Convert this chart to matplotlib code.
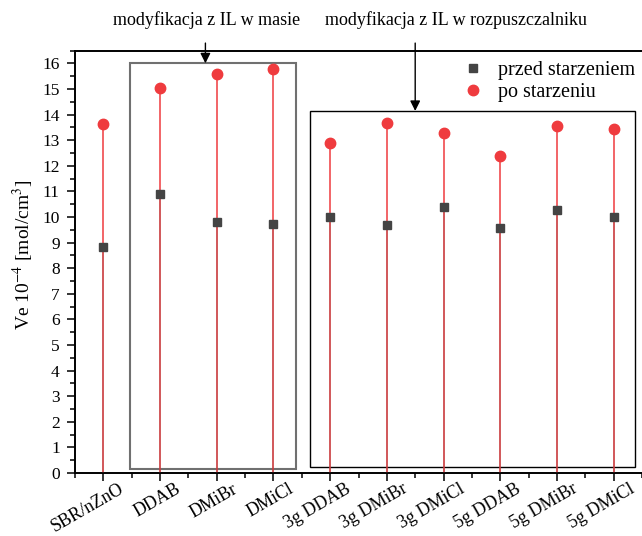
import matplotlib
matplotlib.use("Agg")
import matplotlib.pyplot as plt
import matplotlib.transforms as mtransforms
from matplotlib.patches import Rectangle
from matplotlib.ticker import MultipleLocator

categories = ["SBR/nZnO", "DDAB", "DMiBr", "DMiCl", "3g DDAB", "3g DMiBr",
              "3g DMiCl", "5g DDAB", "5g DMiBr", "5g DMiCl"]
przed = [8.83, 10.89, 9.82, 9.71, 9.99, 9.69, 10.38, 9.57, 10.26, 9.99]
po = [13.63, 15.04, 15.57, 15.79, 12.90, 13.67, 13.29, 12.38, 13.54, 13.44]

plt.rcParams['font.family'] = ['Liberation Serif', 'DejaVu Serif']
plt.rcParams['mathtext.fontset'] = 'stix'

W, H = 642, 536
fig = plt.figure(figsize=(W / 100, H / 100), dpi=100)
ax = fig.add_axes([75 / W, 1 - 473 / H, 1 - 75 / W, (473 - 50.5) / H])

x = list(range(len(categories)))
red = '#ef3b3e'
dark = '#444444'

ax.vlines(x, 0, po, color=red, lw=1.1, zorder=2)
ax.vlines(x, 0, przed, color='#7a3a3a', lw=1.1, alpha=0.35, zorder=3)
ax.plot(x, przed, 's', color=dark, ms=6.3, ls='none', label='przed starzeniem', zorder=4)
ax.plot(x, po, 'o', color=red, ms=7.5, ls='none', label='po starzeniu', zorder=4)

ax.set_xlim(-0.493, 9.383)
ax.set_ylim(0, 16.5)
ax.yaxis.set_major_locator(MultipleLocator(1))
ax.yaxis.set_minor_locator(MultipleLocator(0.5))
ax.set_xticks(x)
ax.set_xticks([i + 0.5 for i in range(-1, 10)], minor=True)
ax.tick_params(axis='y', labelsize=12.5, width=1.1, length=6, pad=5)
ax.tick_params(axis='y', which='minor', width=1.1, length=3.5)
ax.tick_params(axis='x', width=1.1, length=6, pad=3)
ax.tick_params(axis='x', which='minor', width=1.1, length=3.5)
ax.set_xticklabels(categories, rotation=30, ha='right', rotation_mode='anchor', fontsize=13)
offset = mtransforms.ScaledTranslation(0.15, 0.05, fig.dpi_scale_trans)
for tick in ax.xaxis.get_major_ticks():
    tick.label1.set_transform(tick.label1.get_transform() + offset)
ax.spines['right'].set_visible(False)
for s in ['left', 'top', 'bottom']:
    ax.spines[s].set_linewidth(1.4)

ax.set_ylabel(r'Ve 10$^{-4}$ [mol/cm$^{3}$]', fontsize=14)
ax.yaxis.set_label_coords((36 - 75) / 567, (473 - 255) / 422.5)

# group boxes
ax.add_patch(Rectangle((0.465, 0.17), 3.39 - 0.465, 16.0 - 0.17, fill=False,
                       edgecolor='#707070', lw=1.5, zorder=1))
ax.add_patch(Rectangle((3.65, 0.25), 9.37 - 3.65, 14.14 - 0.25, fill=False,
                       edgecolor='black', lw=1.0, zorder=1, clip_on=False))

ax.annotate('', xy=(1.80, 16.0), xytext=(1.80, 16.79), annotation_clip=False,
            arrowprops=dict(arrowstyle='-|>', color='black', lw=1.0, mutation_scale=15,
                            shrinkA=0, shrinkB=0))
ax.annotate('', xy=(5.50, 14.14), xytext=(5.50, 16.79), annotation_clip=False,
            arrowprops=dict(arrowstyle='-|>', color='black', lw=1.0, mutation_scale=15,
                            shrinkA=0, shrinkB=0))

fig.text(206.7 / W, 1 - 20 / H, 'modyfikacja z IL w masie', ha='center', va='center', fontsize=13)
fig.text(456 / W, 1 - 20 / H, 'modyfikacja z IL w rozpuszczalniku', ha='center', va='center', fontsize=13)

ax.legend(loc='upper left', bbox_to_anchor=(463 / W, 1 - 61 / H), bbox_transform=fig.transFigure,
          frameon=False, fontsize=14.5, handlelength=1.0, handletextpad=0.75,
          labelspacing=0.15, borderaxespad=0, borderpad=0)

fig.savefig('out.png', dpi=100)
